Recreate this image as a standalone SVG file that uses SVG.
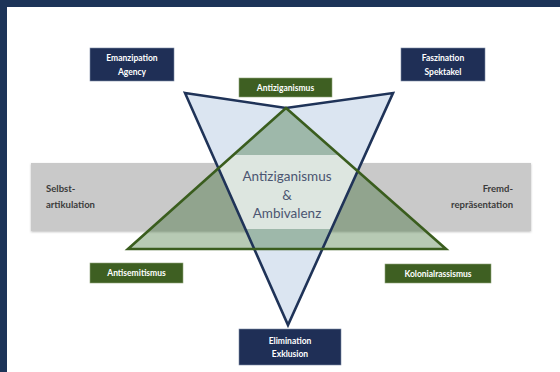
<svg xmlns="http://www.w3.org/2000/svg" width="560" height="372" viewBox="0 0 560 372">
<style>
.nv{fill:#1f2f56;stroke:#7d8aa6;stroke-width:0.6}
.gr{fill:#3e5f22;stroke:#8fa47a;stroke-width:0.6}
.bt{font-family:Lato,"Liberation Sans",sans-serif;font-size:8.5px;font-weight:bold;fill:#ffffff;text-anchor:middle}
.side{font-family:Lato,"Liberation Sans",sans-serif;font-size:9.5px;font-weight:bold;fill:#3b3b3b}
.ctr{font-family:Lato,"Liberation Sans",sans-serif;font-size:13.5px;fill:#4b5571;text-anchor:middle}
</style>
<defs>
<filter id="sh" x="-5%" y="-20%" width="110%" height="140%">
<feDropShadow dx="0" dy="1" stdDeviation="1.2" flood-color="#000" flood-opacity="0.25"/>
</filter>
<clipPath id="cg"><polygon points="286,108 128,249 446,249"/></clipPath>
<clipPath id="cb"><polygon points="185,93 286,108 393,93 288,325"/></clipPath>
</defs>
<rect x="0" y="0" width="560" height="372" fill="#ffffff"/>
<rect x="0" y="0" width="560" height="7" fill="#1c3458"/>
<rect x="0" y="0" width="7" height="372" fill="#1c3458"/>

<g id="band">
<rect x="31" y="163" width="500" height="68" fill="#c9c9c9" filter="url(#sh)"/>
<text class="side" x="46" y="192">Selbst-</text>
<text class="side" x="46" y="208">artikulation</text>
<text class="side" x="513" y="192" text-anchor="end">Fremd-</text>
<text class="side" x="513" y="208" text-anchor="end">repräsentation</text>
</g>

<g id="connectors">
<polygon id="blue-triangle" points="185,93 286,108 393,93 288,325" fill="#dbe5f1"/>
<polygon id="green-triangle" points="286,108 128,249 446,249" fill="#124f05" fill-opacity="0.3"/>
<g clip-path="url(#cg)"><g clip-path="url(#cb)"><rect x="190" y="155" width="200" height="74" fill="#dde6e0"/></g></g>
<polygon points="185,93 286,108 393,93 288,325" fill="none" stroke="#1f3358" stroke-width="2.6" stroke-linejoin="miter"/>
<polygon points="286,108 128,249 446,249" fill="none" stroke="#3a5d1e" stroke-width="2.6"/>
</g>

<g id="center">
<text class="ctr" x="287" y="181">Antiziganismus</text>
<text class="ctr" x="287" y="200">&amp;</text>
<text class="ctr" x="287" y="218">Ambivalenz</text>
</g>

<g id="emanzipation">
<rect class="nv" x="90" y="48" width="84" height="33"/>
<text class="bt" x="132" y="61">Emanzipation</text>
<text class="bt" x="132" y="75">Agency</text>
</g>
<g id="faszination">
<rect class="nv" x="401" y="48" width="84" height="33"/>
<text class="bt" x="443" y="61">Faszination</text>
<text class="bt" x="443" y="75">Spektakel</text>
</g>
<g id="elimination">
<rect class="nv" x="239" y="329" width="102" height="36"/>
<text class="bt" x="290" y="344">Elimination</text>
<text class="bt" x="290" y="357">Exklusion</text>
</g>
<g id="antiziganismus">
<rect class="gr" x="239" y="78" width="93" height="19"/>
<text class="bt" x="285.5" y="90.5">Antiziganismus</text>
</g>
<g id="antisemitismus">
<rect class="gr" x="90" y="263" width="93" height="20"/>
<text class="bt" x="136.5" y="276">Antisemitismus</text>
</g>
<g id="kolonialrassismus">
<rect class="gr" x="385" y="264" width="106" height="19"/>
<text class="bt" x="438" y="276.5">Kolonialrassismus</text>
</g>
</svg>
